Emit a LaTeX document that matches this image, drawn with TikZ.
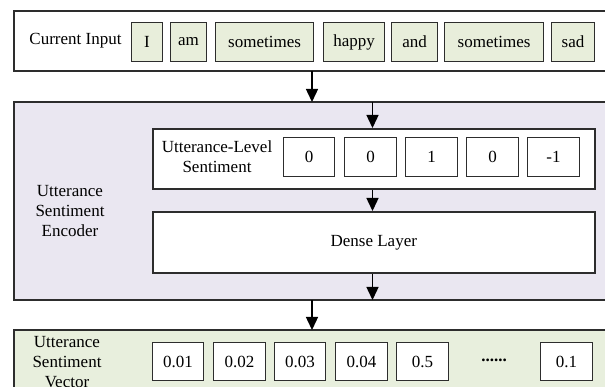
\documentclass[tikz,border=0pt]{standalone}
\usepackage{fontspec}
\setmainfont{Liberation Serif}
\usetikzlibrary{arrows.meta}
\definecolor{wordfill}{RGB}{232,238,219}
\definecolor{encfill}{RGB}{234,231,241}
\definecolor{vecfill}{RGB}{232,239,221}
\definecolor{edge}{RGB}{45,45,45}
\begin{document}
\begin{tikzpicture}[x=1pt,y=-1pt,
  font=\fontsize{17}{20}\selectfont,
  panel/.style={draw=edge,line width=1.6pt},
  cell/.style={draw=edge,line width=1.1pt,inner sep=0pt,anchor=north west},
  word/.style={cell,fill=wordfill},
  num/.style={cell,fill=white},
  flow/.style={line width=1.4pt,-{Triangle[width=12pt,length=13pt]}},
  lbl/.style={align=center,inner sep=0pt}]
\useasboundingbox (0,0) rectangle (605,387);
% panels
\draw[panel,fill=white] (14,11) rectangle (620,71);
\draw[panel,fill=encfill] (14,102) rectangle (620,300);
\draw[panel,fill=vecfill] (14,330) rectangle (620,400);
\coordinate (inB) at (312,71);
\coordinate (encT) at (312,102);
\coordinate (encT2) at (372.5,102);
\coordinate (encB) at (312,300);
\coordinate (encB2) at (372.5,300);
\coordinate (vecT) at (312,330);
% current input
\node[lbl] (cin) at (75.5,41) {Current Input};
\node[word,minimum width=31pt,minimum height=39pt] (w1) at (131,22) {I};
\node[word,minimum width=36pt,minimum height=39pt] (w2) at (170,22) {am};
\node[word,minimum width=98pt,minimum height=39pt] (w3) at (215,22) {sometimes};
\node[word,minimum width=61pt,minimum height=39pt] (w4) at (323,22) {happy};
\node[word,minimum width=46pt,minimum height=39pt] (w5) at (391,22) {and};
\node[word,minimum width=99pt,minimum height=39pt] (w6) at (444,22) {sometimes};
\node[word,minimum width=43pt,minimum height=39pt] (w7) at (551,22) {sad};
% encoder
\node[lbl] (enc) at (70,211) {Utterance\\Sentiment\\Encoder};
\node[draw=edge,line width=1.6pt,fill=white,minimum width=442pt,minimum height=60pt,anchor=north west] (uls) at (152,128) {};
\node[lbl] (ulsl) at (217,157) {Utterance-Level\\Sentiment};
\node[num,minimum width=51pt,minimum height=39pt] (s1) at (283,137) {0};
\node[num,minimum width=52pt,minimum height=39pt] (s2) at (344,137) {0};
\node[num,minimum width=52pt,minimum height=39pt] (s3) at (405,137) {1};
\node[num,minimum width=52pt,minimum height=39pt] (s4) at (466,137) {0};
\node[num,minimum width=52pt,minimum height=39pt] (s5) at (527,137) {-1};
\node[draw=edge,line width=1.6pt,fill=white,minimum width=442pt,minimum height=61pt,anchor=north west] (dense) at (152,211) {Dense Layer};
% vector
\node[lbl] (vec) at (67,362) {Utterance\\Sentiment\\Vector};
\node[num,minimum width=51pt,minimum height=38pt] (v1) at (152,342) {0.01};
\node[num,minimum width=52pt,minimum height=38pt] (v2) at (213,342) {0.02};
\node[num,minimum width=51pt,minimum height=38pt] (v3) at (274,342) {0.03};
\node[num,minimum width=52pt,minimum height=38pt] (v4) at (335,342) {0.04};
\node[num,minimum width=52pt,minimum height=38pt] (v5) at (396,342) {0.5};
\node[lbl] (dots) at (494,360) {\textbf{......}};
\node[num,minimum width=52pt,minimum height=38pt] (v6) at (540,342) {0.1};
% connectors
\draw[flow] (inB) -- (encT);
\draw[flow] (encT2) -- (uls.north -| encT2);
\draw[flow] (uls.south -| encT2) -- (dense.north -| encT2);
\draw[flow] (dense.south -| encB2) -- (encB2);
\draw[flow] (encB) -- (vecT);
\end{tikzpicture}
\end{document}
